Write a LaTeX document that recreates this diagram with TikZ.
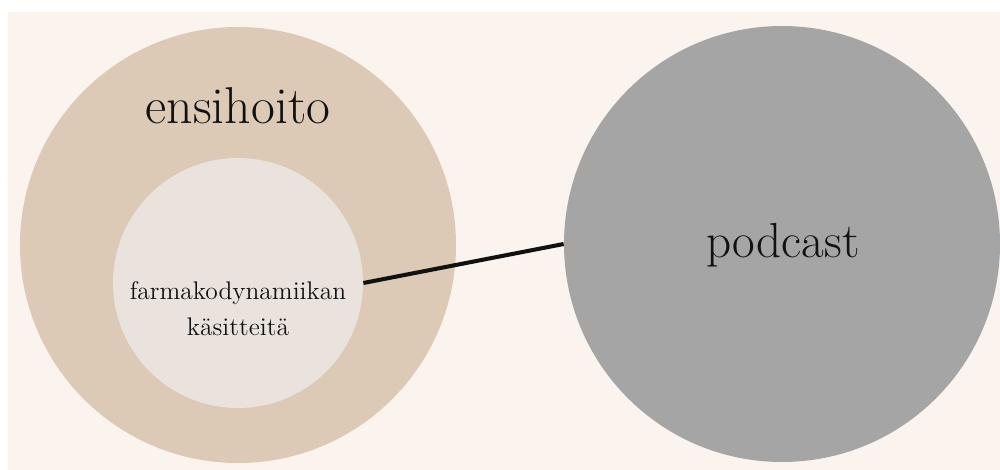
\documentclass[tikz,border=0pt]{standalone}
\usepackage{fontspec}
\definecolor{paper}{HTML}{FAF3EE}
\definecolor{sand}{HTML}{DCC9B6}
\definecolor{shell}{HTML}{EAE3DD}
\definecolor{stone}{HTML}{A5A5A5}
\definecolor{ink}{HTML}{111111}
\tikzset{
	blob/.style={circle,inner sep=0pt,minimum size=#1},
	lbl/.style={text=ink,align=center,inner sep=0pt}
}
\begin{document}
\begin{tikzpicture}[x=0.2mm,y=-0.2mm]
		\useasboundingbox (0,0) rectangle (1000,470);
		\fill[white] (0,0) rectangle (1000,470);
		\fill[paper] (8,12) rectangle (1000,470);
		
		% left side
		\node[blob=8.72cm,fill=sand] (ensi) at (238,245) {};
		\node[blob=5cm,fill=shell] (farma) at (238,283) {};
		\node[lbl,font=\fontsize{29.5}{32}\selectfont] (ensitxt) at (238,106) {ensihoito};
		\node[lbl,font=\fontsize{14.5}{20.4}\selectfont] (farmatxt) at (238,309) {farmakodynamiikan\\käsitteitä};
		
		% right side
		\node[blob=8.72cm,fill=stone] (pod) at (782,244) {};
		\node[lbl,font=\fontsize{28}{32}\selectfont] (podtxt) at (783,245) {podcast};
		
		\draw[line width=2.3pt,ink] (farma.east) -- (pod.west);
		\end{tikzpicture}
\end{document}
